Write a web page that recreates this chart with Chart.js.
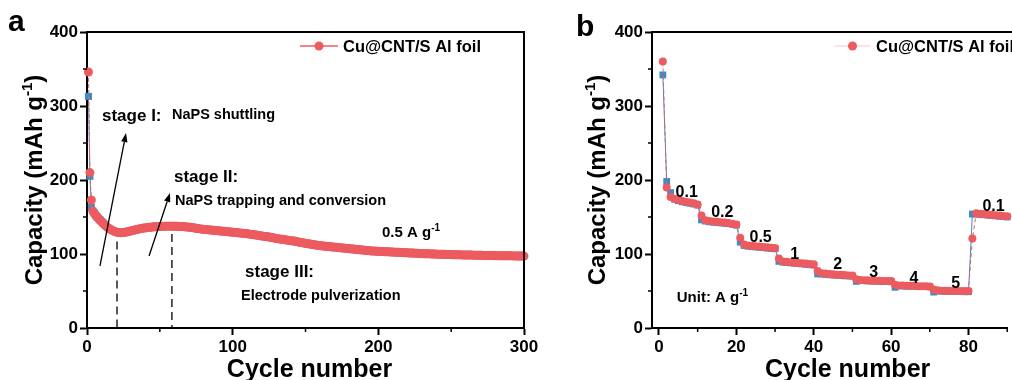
<!DOCTYPE html>
<html>
<head>
<meta charset="utf-8">
<script src="https://cdn.jsdelivr.net/npm/chart.js@4.4.1/dist/chart.umd.min.js"></script>
<style>
  html,body{margin:0;padding:0;background:#fff;width:1012px;height:380px;overflow:hidden;}
  canvas{position:absolute;top:0;}
  #ca{left:0;}
  #cb{left:545px;}
</style>
</head>
<body>
<canvas id="ca" width="545" height="380"></canvas>
<canvas id="cb" width="467" height="380"></canvas>
<script>
// ---------------- DATA ----------------
// Panel a: long cycling at 0.5 A g-1 (cycle 1..300)
const capA_red = [
346,210,173,158,155,152,149.5,147.5,145.5,143.5,
141.5,139.5,137.8,136.2,134.8,133.5,132.3,131.3,130.4,129.7,
129.2,128.9,128.8,128.8,129,129.3,129.7,130.1,130.6,131.1,
131.6,132.1,132.6,133.1,133.5,133.9,134.3,134.7,135,135.3,
135.6,135.9,136.1,136.3,136.5,136.7,136.9,137,137.1,137.2,
137.3,137.4,137.5,137.5,137.6,137.6,137.6,137.6,137.6,137.5,
137.5,137.4,137.3,137.2,137.1,137,136.8,136.6,136.4,136.2,
136,135.7,135.4,135.1,134.8,134.5,134.2,133.9,133.6,133.4,
133.2,133,132.8,132.6,132.4,132.2,132,131.8,131.6,131.4,
131.2,131,130.8,130.6,130.4,130.2,130,129.8,129.6,129.4,
129.2,129,128.8,128.6,128.4,128.2,128,127.8,127.6,127.4,
127.1,126.8,126.5,126.2,125.9,125.6,125.3,125,124.7,124.4,
124.1,123.8,123.5,123.2,122.9,122.6,122.2,121.8,121.4,121,
120.7,120.4,120.1,119.8,119.5,119.2,118.9,118.6,118.3,118,
117.7,117.4,117.1,116.7,116.3,115.9,115.5,115.1,114.7,114.3,
114,113.7,113.4,113.1,112.8,112.5,112.2,111.9,111.6,111.3,
111,110.8,110.6,110.4,110.2,110,109.8,109.6,109.4,109.2,
109,108.8,108.6,108.4,108.2,108,107.8,107.6,107.4,107.2,
107,106.8,106.6,106.4,106.2,106,105.8,105.6,105.4,105.2,
105,104.8,104.6,104.4,104.2,104,103.9,103.8,103.7,103.6,
103.5,103.4,103.3,103.2,103.1,103,102.9,102.8,102.7,102.6,
102.5,102.4,102.3,102.2,102.1,102,101.9,101.8,101.7,101.6,
101.5,101.4,101.3,101.2,101.1,101,100.9,100.8,100.7,100.6,
100.5,100.4,100.3,100.2,100.2,100.1,100,100,99.9,99.8,
99.8,99.7,99.6,99.6,99.5,99.4,99.4,99.3,99.2,99.2,
99.1,99.1,99,99,98.9,98.9,98.8,98.8,98.7,98.7,
98.6,98.6,98.5,98.5,98.4,98.4,98.3,98.3,98.3,98.2,
98.2,98.1,98.1,98.1,98,98,97.9,97.9,97.9,97.8,
97.8,97.8,97.7,97.7,97.7,97.6,97.6,97.6,97.5,97.5,
97.5,97.4,97.4,97.4,97.3,97.3,97.3,97.2,97.2,97.2
];
// blue series only differs visibly in the first cycles (hidden under red afterwards)
const capA_blue = [313,205,163,158,155.5,152.5,150,148,146,144,142,140];

const xTicksA = [0,100,200,300];
const yTicksA = [0,100,200,300,400];
const xMinorA = [50,150,250];
const yMinor  = [50,150,250,350];

// Panel b: rate performance (cycle 1..90)
const capB_red = [
360,190,177,174.5,173,171.5,170.5,169.5,168.5,167,
152,145.5,144.5,144,143.5,143,142.5,142,141,140,
122,113,111.5,111,110.5,110,109.5,109,108.5,108,
94,90,89.5,89,88.5,88,87.5,87,86.5,86,
77,74,73.5,73,72.5,72,72,71.5,71,71,
66,65,64.5,64.5,64,64,64,63.5,63.5,63.5,
58.5,57.5,57.5,57,57,57,56.5,56.5,56.5,56,
52,51,50.5,50.5,50.5,50,50,50,50,50,
121,155,154.5,154,153.5,153,152.5,152,151.5,151
];
const capB_blue = [
342,198,183,174,172,170.5,169.5,168.5,167.5,166,
146,144.5,143.5,143,142.5,142,141.5,141,140,139,
116,111.5,110.5,110,109.5,109,108.5,108,107.5,107,
90,89,88.5,88,87.5,87,86.5,86,85.5,85,
73,73,72.5,72,71.5,71.5,71,70.5,70.5,70,
63,64,64,63.5,63.5,63.5,63,63,63,62.5,
55,57,57,56.5,56.5,56.5,56,56,56,55.5,
48.5,50,50,49.5,49.5,49.5,49.5,49.5,49,49,
154,154,153.5,153,152.5,152,151.5,151,150.5,150
];
const xTicksB = [0,20,40,60,80];
const yTicksB = [0,100,200,300,400];
const xMinorB = [10,30,50,70,90];
const rateLabels = ['0.1','0.2','0.5','1','2','3','4','5','0.1'];

const legendName = 'Cu@CNT/S Al foil';
const yTitle = 'Capacity (mAh g';
const xTitle = 'Cycle number';

// ---------------- STYLE ----------------
const FF = '"Liberation Sans", Arial, Helvetica, sans-serif';
const RED = '#EC5B5F';
const BLUE = '#3D8CC4';

function runsWidth(ctx, runs){
  let w = 0;
  runs.forEach(r => { ctx.font = `bold ${r.size}px ${FF}`; w += ctx.measureText(r.t).width; });
  return w;
}
function drawRuns(ctx, runs, x, y, align){
  const w = runsWidth(ctx, runs);
  let cx = align === 'center' ? x - w/2 : (align === 'right' ? x - w : x);
  ctx.textBaseline = 'alphabetic';
  ctx.textAlign = 'left';
  ctx.fillStyle = '#000';
  runs.forEach(r => {
    ctx.font = `bold ${r.size}px ${FF}`;
    ctx.fillText(r.t, cx, y - (r.raise || 0));
    cx += ctx.measureText(r.t).width;
  });
}
function arrow(ctx, x1, y1, x2, y2){
  ctx.save();
  ctx.strokeStyle = '#000'; ctx.fillStyle = '#000'; ctx.lineWidth = 1.3;
  const ang = Math.atan2(y2 - y1, x2 - x1);
  const hl = 9, hw = 3.2;
  const bx = x2 - hl*Math.cos(ang), by = y2 - hl*Math.sin(ang);
  ctx.beginPath(); ctx.moveTo(x1, y1); ctx.lineTo(bx, by); ctx.stroke();
  ctx.beginPath();
  ctx.moveTo(x2, y2);
  ctx.lineTo(bx + hw*Math.sin(ang), by - hw*Math.cos(ang));
  ctx.lineTo(bx - hw*Math.sin(ang), by + hw*Math.cos(ang));
  ctx.closePath(); ctx.fill();
  ctx.restore();
}

function makeDecor(cfg){
  return {
    id: 'decor',
    afterDraw(chart){
      const ctx = chart.ctx, a = chart.chartArea;
      const xs = chart.scales.x, ys = chart.scales.y;
      ctx.save();
      // frame
      ctx.strokeStyle = '#000'; ctx.lineWidth = 2;
      ctx.beginPath();
      ctx.moveTo(a.left - 1, a.top);
      ctx.lineTo(a.right + (cfg.rightBorder ? 0 : 10), a.top);
      if (cfg.rightBorder) ctx.lineTo(a.right, a.bottom + 1);
      ctx.stroke();
      // minor ticks
      ctx.lineWidth = 1.5;
      cfg.xMinor.forEach(v => { const p = xs.getPixelForValue(v); ctx.beginPath(); ctx.moveTo(p, a.bottom); ctx.lineTo(p, a.bottom + 4); ctx.stroke(); });
      cfg.yMinor.forEach(v => { const p = ys.getPixelForValue(v); ctx.beginPath(); ctx.moveTo(a.left, p); ctx.lineTo(a.left - 4, p); ctx.stroke(); });
      // axis titles
      drawRuns(ctx, [{t: xTitle, size: 25}], (a.left + a.right)/2 + cfg.xTitleShift, 377, 'center');
      ctx.save();
      ctx.translate(cfg.yTitleX, (a.top + a.bottom)/2);
      ctx.rotate(-Math.PI/2);
      drawRuns(ctx, [{t: yTitle, size: 24}, {t: '-1', size: 15, raise: 10}, {t: ')', size: 24}], 0, 0, 'center');
      ctx.restore();
      // panel letter
      drawRuns(ctx, [{t: cfg.letter, size: 30}], cfg.letterX, cfg.letterY, 'left');
      // legend
      const lg = cfg.legend;
      ctx.strokeStyle = lg.lineColor; ctx.lineWidth = lg.lineWidth;
      ctx.beginPath(); ctx.moveTo(lg.x1, lg.y); ctx.lineTo(lg.x2, lg.y); ctx.stroke();
      ctx.fillStyle = RED; ctx.beginPath(); ctx.arc((lg.x1 + lg.x2)/2, lg.y, 4.5, 0, Math.PI*2); ctx.fill();
      drawRuns(ctx, [{t: legendName, size: 16.5}], lg.tx, lg.y + 6, 'left');
      // dashed guides
      (cfg.dashes || []).forEach(d => {
        ctx.save(); ctx.strokeStyle = '#000'; ctx.lineWidth = 1.3; ctx.setLineDash([8,5]);
        const px = xs.getPixelForValue(d.x);
        ctx.beginPath(); ctx.moveTo(px, ys.getPixelForValue(d.top)); ctx.lineTo(px, a.bottom); ctx.stroke();
        ctx.restore();
      });
      // arrows
      (cfg.arrows || []).forEach(r => arrow(ctx, xs.getPixelForValue(r[0]), ys.getPixelForValue(r[1]), xs.getPixelForValue(r[2]), ys.getPixelForValue(r[3])));
      // texts (x,y data coords of left/center & vertical middle)
      (cfg.texts || []).forEach(tx => {
        const size = tx.runs[0].size;
        drawRuns(ctx, tx.runs, xs.getPixelForValue(tx.x), ys.getPixelForValue(tx.y) + size*0.36, tx.align || 'left');
      });
      ctx.restore();
    }
  };
}

function axisOpts(min, max, ticks, fitKey, fitVal){
  return {
    type: 'linear', min, max,
    afterBuildTicks: s => { s.ticks = ticks.map(v => ({value: v})); },
    afterFit: s => { s[fitKey] = fitVal; },
    grid: {display: true, drawOnChartArea: false, drawTicks: true, tickLength: 7, tickColor: '#000', tickWidth: 2},
    border: {display: true, color: '#000', width: 2},
    ticks: {color: '#000', font: {family: FF, size: 17, weight: 'bold'}, padding: 2, maxRotation: 0, autoSkip: false}
  };
}

function ds(values, color, style, radius, dash){
  return {
    data: values.map((v, i) => ({x: i + 1, y: v})),
    borderColor: color, backgroundColor: color,
    borderWidth: 1, borderDash: dash || [],
    pointStyle: style, pointRadius: radius, pointBorderWidth: 0,
    pointBackgroundColor: color, pointBorderColor: color,
    clip: false, tension: 0
  };
}

// ---------------- PANEL A ----------------
new Chart(document.getElementById('ca'), {
  type: 'line',
  data: {datasets: [ds(capA_red, RED, 'circle', 4.5, [4,2]), ds(capA_blue, BLUE, 'rect', 5)]},
  options: {
    responsive: false, animation: false, events: [],
    layout: {padding: {top: 32, right: 21, left: 0, bottom: 0}},
    plugins: {legend: {display: false}, tooltip: {enabled: false}},
    scales: {x: axisOpts(0, 300, xTicksA, 'height', 52), y: axisOpts(0, 400, yTicksA, 'width', 87)}
  },
  plugins: [makeDecor({
    rightBorder: true, xMinor: xMinorA, yMinor: yMinor,
    xTitleShift: 4, yTitleX: 42, letter: 'a', letterX: 8, letterY: 31,
    legend: {x1: 300, x2: 338, y: 46, tx: 343, lineColor: RED, lineWidth: 1.5},
    dashes: [{x: 20.6, top: 117}, {x: 58.3, top: 127}],
    arrows: [[8.9, 83.8, 26.8, 263.5], [42.6, 97.3, 57, 182.4]],
    texts: [
      {x: 10.3, y: 288, runs: [{t: 'stage I:', size: 17}]},
      {x: 58.3, y: 289, runs: [{t: 'NaPS shuttling', size: 14.5}]},
      {x: 59.7, y: 205, runs: [{t: 'stage II:', size: 17}]},
      {x: 60.4, y: 173, runs: [{t: 'NaPS trapping and conversion', size: 14.5}]},
      {x: 202.5, y: 130, runs: [{t: '0.5 A g', size: 15}, {t: '-1', size: 10, raise: 6}]},
      {x: 108.5, y: 77, runs: [{t: 'stage III:', size: 17}]},
      {x: 105.7, y: 45, runs: [{t: 'Electrode pulverization', size: 14.5}]}
    ]
  })]
});

// ---------------- PANEL B ----------------
const rateTextPos = [[4.3,185,'left'],[13.5,157.2,'left'],[23.4,123.4,'left'],[35.1,101.4,'center'],[46.2,87.8,'center'],[55.5,77,'center'],[65.9,68.9,'center'],[76.7,62.2,'center'],[83.6,166.2,'left']];
new Chart(document.getElementById('cb'), {
  type: 'line',
  data: {datasets: [ds(capB_red, RED, 'circle', 4, [4,3]), ds(capB_blue, BLUE, 'rect', 4.8)]},
  options: {
    responsive: false, animation: false, events: [],
    layout: {padding: {top: 32, right: 0, left: 0, bottom: 0}},
    plugins: {legend: {display: false}, tooltip: {enabled: false}},
    scales: {x: axisOpts(-1.8, 90, xTicksB, 'height', 52), y: axisOpts(0, 400, yTicksB, 'width', 107)}
  },
  plugins: [makeDecor({
    rightBorder: false, xMinor: xMinorB, yMinor: yMinor,
    xTitleShift: 18, yTitleX: 60, letter: 'b', letterX: 31, letterY: 36,
    legend: {x1: 290, x2: 325, y: 46, tx: 331, lineColor: 'rgba(236,91,95,0.35)', lineWidth: 1},
    texts: rateLabels.map((t, i) => ({x: rateTextPos[i][0], y: rateTextPos[i][1], align: rateTextPos[i][2], runs: [{t, size: 16}]}))
      .concat([{x: 4.6, y: 42.3, runs: [{t: 'Unit: A g', size: 15}, {t: '-1', size: 10, raise: 6}]}])
  })]
});
</script>
</body>
</html>
